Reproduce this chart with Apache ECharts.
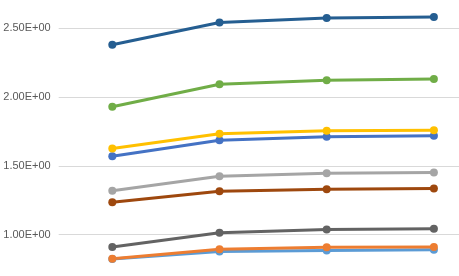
<!DOCTYPE html>
<html><head><meta charset="utf-8">
<script src="https://cdn.jsdelivr.net/npm/echarts@6/dist/echarts.min.js"></script>
<style>
html,body{margin:0;padding:0;background:#fff}
#wrap{position:relative;width:459px;height:276px;overflow:hidden}
#c{position:absolute;left:0;top:-46px;width:490px;height:355px}
</style>
</head><body><div id="wrap"><div id="c"></div></div>
<script>
const categories = ['1', '2', '3', '4'];
const yTicks = [0.5, 1.0, 1.5, 2.0, 2.5, 3.0];
const sLightBlue = [0.824, 0.878, 0.885, 0.890];
const sBlue = [1.570, 1.686, 1.712, 1.719];
const sOrange = [0.826, 0.895, 0.909, 0.911];
const sGray = [1.319, 1.424, 1.447, 1.452];
const sYellow = [1.626, 1.733, 1.755, 1.759];
const sGreen = [1.930, 2.094, 2.122, 2.132];
const sDarkBlue = [2.380, 2.542, 2.575, 2.582];
const sBrown = [1.236, 1.316, 1.330, 1.335];
const sDarkGray = [0.911, 1.014, 1.037, 1.044];

const seriesDefs = [
  ['Series5', sLightBlue, '#5b9bd5'],
  ['Series1', sBlue, '#4472c4'],
  ['Series2', sOrange, '#ed7d31'],
  ['Series3', sGray, '#a5a5a5'],
  ['Series4', sYellow, '#ffc000'],
  ['Series6', sGreen, '#70ad47'],
  ['Series7', sDarkBlue, '#255e91'],
  ['Series8', sBrown, '#9e480e'],
  ['Series9', sDarkGray, '#636363']
];

const chart = echarts.init(document.getElementById('c'), null, {renderer: 'canvas'});
chart.setOption({
  animation: false,
  grid: {left: 58.7, top: 0, right: 2.5, bottom: 0, containLabel: false},
  xAxis: {
    type: 'category', data: categories, boundaryGap: true,
    axisLine: {show: false}, axisTick: {show: false}, axisLabel: {show: false}
  },
  yAxis: {
    type: 'value', min: yTicks[0], max: yTicks[yTicks.length - 1], interval: 0.5,
    axisLine: {show: false}, axisTick: {show: false},
    splitLine: {lineStyle: {color: '#d9d9d9', width: 1}},
    axisLabel: {
      margin: 8, color: '#595959', fontSize: 11, fontFamily: 'Liberation Sans, Arial, sans-serif',
      formatter: v => v.toFixed(2) + 'E+00'
    }
  },
  series: seriesDefs.map(([name, data, color]) => ({
    name, type: 'line', data,
    symbol: 'circle', symbolSize: 8,
    lineStyle: {color, width: 3},
    itemStyle: {color},
    emphasis: {disabled: true}
  }))
});
</script></body></html>
